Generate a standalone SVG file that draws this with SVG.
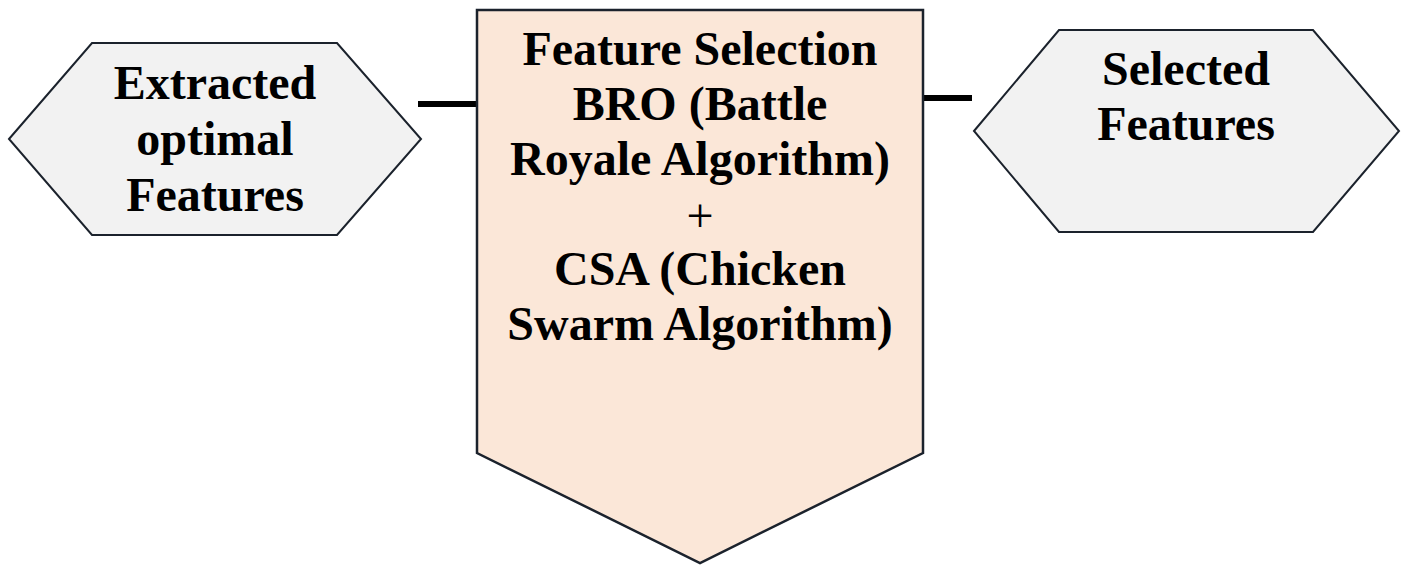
<svg xmlns="http://www.w3.org/2000/svg" width="1406" height="565" viewBox="0 0 1406 565">
  <style>
    .hex { fill: #F2F2F2; stroke: #1B222C; stroke-width: 2; stroke-linejoin: miter; }
    .proc { fill: #FBE7D8; stroke: #1B222C; stroke-width: 2.5; stroke-linejoin: miter; }
    .link { stroke: #000000; stroke-width: 6; fill: none; }
    .label { font-family: "Liberation Serif", "Times New Roman", serif; font-size: 48px; font-weight: bold; fill: #000000; text-anchor: middle; }
    .op { font-weight: normal; }
  </style>

  <!-- connectors -->
  <g id="connectors">
    <line class="link" x1="418" y1="104" x2="477" y2="104"/>
    <line class="link" x1="922" y1="98" x2="972" y2="98"/>
  </g>

  <!-- input features -->
  <g id="node-extracted">
    <polygon class="hex" points="9,139 92,43 337,43 421,139 337,235 92,235"/>
    <text class="label" x="215" y="99">Extracted</text>
    <text class="label" x="215" y="155">optimal</text>
    <text class="label" x="215" y="211">Features</text>
  </g>

  <!-- feature selection stage -->
  <g id="node-selection">
    <polygon class="proc" points="477,10 923,10 923,453 700,563 477,453"/>
    <text class="label" x="700" y="65">Feature Selection</text>
    <text class="label" x="700" y="120">BRO (Battle</text>
    <text class="label" x="700" y="175">Royale Algorithm)</text>
    <text class="label op" x="700" y="232">+</text>
    <text class="label" x="700" y="285">CSA (Chicken</text>
    <text class="label" x="700" y="340">Swarm Algorithm)</text>
  </g>

  <!-- output features -->
  <g id="node-selected">
    <polygon class="hex" points="974,131 1059,30 1313,30 1399,131 1313,232 1059,232"/>
    <text class="label" x="1186" y="85">Selected</text>
    <text class="label" x="1186" y="140">Features</text>
  </g>
</svg>
